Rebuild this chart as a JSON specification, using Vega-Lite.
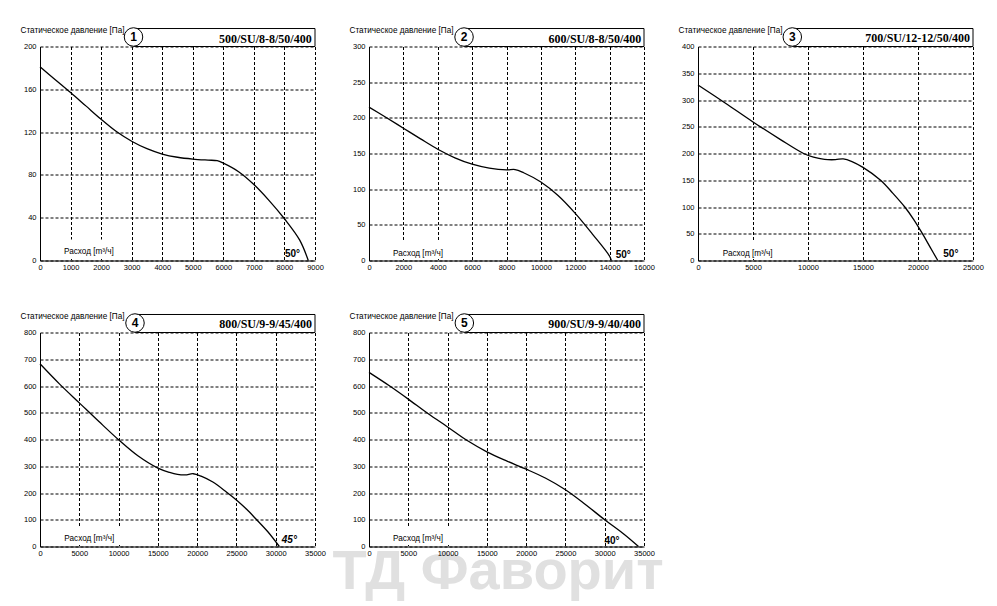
{
  "$schema": "https://vega.github.io/schema/vega-lite/v6.json",
  "background": "white",
  "padding": {"left": 20, "top": 25.5, "right": 5, "bottom": 0},
  "autosize": {"type": "pad"},
  "datasets": {
    "p1": [{"flow":0,"pressure":181},{"flow":500,"pressure":169},{"flow":1000,"pressure":157},{"flow":1500,"pressure":144.5},{"flow":2000,"pressure":132},{"flow":2500,"pressure":120.5},{"flow":3000,"pressure":111.5},{"flow":3500,"pressure":104.5},{"flow":4000,"pressure":99.5},{"flow":4500,"pressure":96.5},{"flow":5000,"pressure":94.8},{"flow":5500,"pressure":93.8},{"flow":5800,"pressure":93.3},{"flow":6000,"pressure":91},{"flow":6500,"pressure":83},{"flow":7000,"pressure":71},{"flow":7500,"pressure":56},{"flow":8000,"pressure":39},{"flow":8500,"pressure":19},{"flow":8780,"pressure":0}],
    "p2": [{"flow":0,"pressure":215},{"flow":1000,"pressure":200.5},{"flow":2000,"pressure":185.5},{"flow":3000,"pressure":170.5},{"flow":4000,"pressure":156},{"flow":5000,"pressure":144},{"flow":6000,"pressure":135},{"flow":7000,"pressure":129.5},{"flow":8000,"pressure":127},{"flow":8500,"pressure":127.5},{"flow":9000,"pressure":123},{"flow":10000,"pressure":110},{"flow":11000,"pressure":91},{"flow":12000,"pressure":66},{"flow":13000,"pressure":37},{"flow":14000,"pressure":6},{"flow":14100,"pressure":0}],
    "p3": [{"flow":0,"pressure":328},{"flow":2500,"pressure":294},{"flow":5000,"pressure":259},{"flow":7500,"pressure":226},{"flow":9600,"pressure":200},{"flow":10500,"pressure":193},{"flow":11500,"pressure":189},{"flow":12500,"pressure":188.5},{"flow":13200,"pressure":190},{"flow":14000,"pressure":185},{"flow":15000,"pressure":174},{"flow":16600,"pressure":150},{"flow":17700,"pressure":126},{"flow":18800,"pressure":100},{"flow":19600,"pressure":77},{"flow":20350,"pressure":52},{"flow":21100,"pressure":25},{"flow":21800,"pressure":0}],
    "p4": [{"flow":0,"pressure":683},{"flow":2500,"pressure":607},{"flow":5000,"pressure":537},{"flow":7500,"pressure":467},{"flow":10000,"pressure":399},{"flow":12500,"pressure":338},{"flow":15000,"pressure":293},{"flow":16500,"pressure":277},{"flow":17500,"pressure":270},{"flow":18500,"pressure":268},{"flow":19500,"pressure":272},{"flow":20500,"pressure":263},{"flow":22000,"pressure":241},{"flow":23757,"pressure":203},{"flow":25000,"pressure":174},{"flow":26300,"pressure":139},{"flow":27576,"pressure":100},{"flow":29000,"pressure":55},{"flow":30460,"pressure":0}],
    "p5": [{"flow":0,"pressure":651},{"flow":2640,"pressure":600},{"flow":5000,"pressure":551},{"flow":7500,"pressure":497},{"flow":10000,"pressure":447},{"flow":12500,"pressure":396},{"flow":15000,"pressure":354},{"flow":17500,"pressure":320},{"flow":20000,"pressure":289},{"flow":22500,"pressure":255},{"flow":25000,"pressure":212},{"flow":27500,"pressure":158},{"flow":30000,"pressure":100},{"flow":32500,"pressure":45},{"flow":34300,"pressure":0}]
  },
  "concat": [
    {
      "width": 275, "height": 214, "data": {"name": "p1"},
      "layer": [
        {"mark": {"type": "line", "color": "black", "strokeWidth": 1.3, "interpolate": "catmull-rom"},
         "encoding": {
           "x": {"field": "flow", "type": "quantitative", "scale": {"domain": [0, 9000], "nice": false}, "axis": {"values": [0,1000,2000,3000,4000,5000,6000,7000,8000,9000], "title": null, "format": "d"}},
           "y": {"field": "pressure", "type": "quantitative", "scale": {"domain": [0, 200], "nice": false}, "axis": {"values": [0,40,80,120,160,200], "title": "Статическое давление [Па]", "format": "d"}}}},
        {"data": {"values": [{}]}, "mark": {"type": "rect", "fill": "white"},
         "encoding": {"x": {"datum": 600, "type": "quantitative", "axis": {"values": [0,1000,2000,3000,4000,5000,6000,7000,8000,9000], "title": null, "format": "d"}}, "x2": {"datum": 2600}, "y": {"datum": 1.4, "type": "quantitative", "axis": {"values": [0,40,80,120,160,200], "title": "Статическое давление [Па]", "format": "d"}}, "y2": {"datum": 19.6}}},
        {"data": {"values": [{}]}, "mark": {"type": "text", "align": "left", "baseline": "middle", "font": "Liberation Sans", "fontSize": 8.2, "color": "black", "text": "Расход [m³/ч]"},
         "encoding": {"x": {"datum": 785, "type": "quantitative", "axis": {"values": [0,1000,2000,3000,4000,5000,6000,7000,8000,9000], "title": null, "format": "d"}}, "y": {"datum": 7.5, "type": "quantitative", "axis": {"values": [0,40,80,120,160,200], "title": "Статическое давление [Па]", "format": "d"}}}},
        {"data": {"values": [{}]}, "mark": {"type": "text", "align": "left", "baseline": "alphabetic", "font": "Liberation Sans", "fontSize": 10, "fontWeight": "bold", "color": "black", "text": "50°"},
         "encoding": {"x": {"datum": 8018, "type": "quantitative", "axis": {"values": [0,1000,2000,3000,4000,5000,6000,7000,8000,9000], "title": null, "format": "d"}}, "y": {"datum": 3.7, "type": "quantitative", "axis": {"values": [0,40,80,120,160,200], "title": "Статическое давление [Па]", "format": "d"}}}},
        {"data": {"values": [{}]}, "mark": {"type": "rect", "fill": "white", "fillOpacity": 0, "stroke": "black", "strokeWidth": 1},
         "encoding": {"x": {"datum": 3060, "type": "quantitative", "axis": {"values": [0,1000,2000,3000,4000,5000,6000,7000,8000,9000], "title": null, "format": "d"}}, "x2": {"datum": 9000}, "y": {"datum": 200, "type": "quantitative", "axis": {"values": [0,40,80,120,160,200], "title": "Статическое давление [Па]", "format": "d"}}, "y2": {"datum": 216.8}}},
        {"data": {"values": [{}]}, "mark": {"type": "point", "shape": "circle", "filled": true, "fill": "white", "stroke": "black", "strokeWidth": 1, "size": 342, "opacity": 1},
         "encoding": {"x": {"datum": 3060, "type": "quantitative", "axis": {"values": [0,1000,2000,3000,4000,5000,6000,7000,8000,9000], "title": null, "format": "d"}}, "y": {"datum": 208.9, "type": "quantitative", "axis": {"values": [0,40,80,120,160,200], "title": "Статическое давление [Па]", "format": "d"}}}},
        {"data": {"values": [{}]}, "mark": {"type": "text", "align": "center", "baseline": "middle", "font": "Liberation Sans", "fontSize": 12, "fontWeight": "bold", "color": "black", "text": "1"},
         "encoding": {"x": {"datum": 3060, "type": "quantitative", "axis": {"values": [0,1000,2000,3000,4000,5000,6000,7000,8000,9000], "title": null, "format": "d"}}, "y": {"datum": 208.9, "type": "quantitative", "axis": {"values": [0,40,80,120,160,200], "title": "Статическое давление [Па]", "format": "d"}}}},
        {"data": {"values": [{}]}, "mark": {"type": "text", "align": "right", "baseline": "alphabetic", "font": "Liberation Serif", "fontSize": 12, "fontWeight": "bold", "color": "black", "text": "500/SU/8-8/50/400"},
         "encoding": {"x": {"datum": 8892, "type": "quantitative", "axis": {"values": [0,1000,2000,3000,4000,5000,6000,7000,8000,9000], "title": null, "format": "d"}}, "y": {"datum": 203.7, "type": "quantitative", "axis": {"values": [0,40,80,120,160,200], "title": "Статическое давление [Па]", "format": "d"}}}}
      ]
    },
    {
      "width": 275, "height": 214, "data": {"name": "p2"},
      "layer": [
        {"mark": {"type": "line", "color": "black", "strokeWidth": 1.3, "interpolate": "catmull-rom"},
         "encoding": {
           "x": {"field": "flow", "type": "quantitative", "scale": {"domain": [0, 16000], "nice": false}, "axis": {"values": [0,2000,4000,6000,8000,10000,12000,14000,16000], "title": null, "format": "d"}},
           "y": {"field": "pressure", "type": "quantitative", "scale": {"domain": [0, 300], "nice": false}, "axis": {"values": [0,50,100,150,200,250,300], "title": "Статическое давление [Па]", "format": "d"}}}},
        {"data": {"values": [{}]}, "mark": {"type": "rect", "fill": "white"},
         "encoding": {"x": {"datum": 1100, "type": "quantitative", "axis": {"values": [0,2000,4000,6000,8000,10000,12000,14000,16000], "title": null, "format": "d"}}, "x2": {"datum": 4600}, "y": {"datum": 2.1, "type": "quantitative", "axis": {"values": [0,50,100,150,200,250,300], "title": "Статическое давление [Па]", "format": "d"}}, "y2": {"datum": 28}}},
        {"data": {"values": [{}]}, "mark": {"type": "text", "align": "left", "baseline": "middle", "font": "Liberation Sans", "fontSize": 8.2, "color": "black", "text": "Расход [m³/ч]"},
         "encoding": {"x": {"datum": 1402, "type": "quantitative", "axis": {"values": [0,2000,4000,6000,8000,10000,12000,14000,16000], "title": null, "format": "d"}}, "y": {"datum": 9.4, "type": "quantitative", "axis": {"values": [0,50,100,150,200,250,300], "title": "Статическое давление [Па]", "format": "d"}}}},
        {"data": {"values": [{}]}, "mark": {"type": "text", "align": "left", "baseline": "alphabetic", "font": "Liberation Sans", "fontSize": 10, "fontWeight": "bold", "color": "black", "text": "50°"},
         "encoding": {"x": {"datum": 14350, "type": "quantitative", "axis": {"values": [0,2000,4000,6000,8000,10000,12000,14000,16000], "title": null, "format": "d"}}, "y": {"datum": 3.8, "type": "quantitative", "axis": {"values": [0,50,100,150,200,250,300], "title": "Статическое давление [Па]", "format": "d"}}}},
        {"data": {"values": [{}]}, "mark": {"type": "rect", "fill": "white", "fillOpacity": 0, "stroke": "black", "strokeWidth": 1},
         "encoding": {"x": {"datum": 5530, "type": "quantitative", "axis": {"values": [0,2000,4000,6000,8000,10000,12000,14000,16000], "title": null, "format": "d"}}, "x2": {"datum": 16000}, "y": {"datum": 300, "type": "quantitative", "axis": {"values": [0,50,100,150,200,250,300], "title": "Статическое давление [Па]", "format": "d"}}, "y2": {"datum": 325.2}}},
        {"data": {"values": [{}]}, "mark": {"type": "point", "shape": "circle", "filled": true, "fill": "white", "stroke": "black", "strokeWidth": 1, "size": 342, "opacity": 1},
         "encoding": {"x": {"datum": 5530, "type": "quantitative", "axis": {"values": [0,2000,4000,6000,8000,10000,12000,14000,16000], "title": null, "format": "d"}}, "y": {"datum": 313.3, "type": "quantitative", "axis": {"values": [0,50,100,150,200,250,300], "title": "Статическое давление [Па]", "format": "d"}}}},
        {"data": {"values": [{}]}, "mark": {"type": "text", "align": "center", "baseline": "middle", "font": "Liberation Sans", "fontSize": 12, "fontWeight": "bold", "color": "black", "text": "2"},
         "encoding": {"x": {"datum": 5530, "type": "quantitative", "axis": {"values": [0,2000,4000,6000,8000,10000,12000,14000,16000], "title": null, "format": "d"}}, "y": {"datum": 313.3, "type": "quantitative", "axis": {"values": [0,50,100,150,200,250,300], "title": "Статическое давление [Па]", "format": "d"}}}},
        {"data": {"values": [{}]}, "mark": {"type": "text", "align": "right", "baseline": "alphabetic", "font": "Liberation Serif", "fontSize": 12, "fontWeight": "bold", "color": "black", "text": "600/SU/8-8/50/400"},
         "encoding": {"x": {"datum": 15840, "type": "quantitative", "axis": {"values": [0,2000,4000,6000,8000,10000,12000,14000,16000], "title": null, "format": "d"}}, "y": {"datum": 305.6, "type": "quantitative", "axis": {"values": [0,50,100,150,200,250,300], "title": "Статическое давление [Па]", "format": "d"}}}}
      ]
    },
    {
      "width": 275, "height": 214, "data": {"name": "p3"},
      "layer": [
        {"mark": {"type": "line", "color": "black", "strokeWidth": 1.3, "interpolate": "catmull-rom"},
         "encoding": {
           "x": {"field": "flow", "type": "quantitative", "scale": {"domain": [0, 25000], "nice": false}, "axis": {"values": [0,5000,10000,15000,20000,25000], "title": null, "format": "d"}},
           "y": {"field": "pressure", "type": "quantitative", "scale": {"domain": [0, 400], "nice": false}, "axis": {"values": [0,50,100,150,200,250,300,350,400], "title": "Статическое давление [Па]", "format": "d"}}}},
        {"data": {"values": [{}]}, "mark": {"type": "rect", "fill": "white"},
         "encoding": {"x": {"datum": 1800, "type": "quantitative", "axis": {"values": [0,5000,10000,15000,20000,25000], "title": null, "format": "d"}}, "x2": {"datum": 7000}, "y": {"datum": 2.8, "type": "quantitative", "axis": {"values": [0,50,100,150,200,250,300,350,400], "title": "Статическое давление [Па]", "format": "d"}}, "y2": {"datum": 37}}},
        {"data": {"values": [{}]}, "mark": {"type": "text", "align": "left", "baseline": "middle", "font": "Liberation Sans", "fontSize": 8.2, "color": "black", "text": "Расход [m³/ч]"},
         "encoding": {"x": {"datum": 2245, "type": "quantitative", "axis": {"values": [0,5000,10000,15000,20000,25000], "title": null, "format": "d"}}, "y": {"datum": 12.5, "type": "quantitative", "axis": {"values": [0,50,100,150,200,250,300,350,400], "title": "Статическое давление [Па]", "format": "d"}}}},
        {"data": {"values": [{}]}, "mark": {"type": "text", "align": "left", "baseline": "alphabetic", "font": "Liberation Sans", "fontSize": 10, "fontWeight": "bold", "color": "black", "text": "50°"},
         "encoding": {"x": {"datum": 22300, "type": "quantitative", "axis": {"values": [0,5000,10000,15000,20000,25000], "title": null, "format": "d"}}, "y": {"datum": 6.9, "type": "quantitative", "axis": {"values": [0,50,100,150,200,250,300,350,400], "title": "Статическое давление [Па]", "format": "d"}}}},
        {"data": {"values": [{}]}, "mark": {"type": "rect", "fill": "white", "fillOpacity": 0, "stroke": "black", "strokeWidth": 1},
         "encoding": {"x": {"datum": 8573, "type": "quantitative", "axis": {"values": [0,5000,10000,15000,20000,25000], "title": null, "format": "d"}}, "x2": {"datum": 25000}, "y": {"datum": 400, "type": "quantitative", "axis": {"values": [0,50,100,150,200,250,300,350,400], "title": "Статическое давление [Па]", "format": "d"}}, "y2": {"datum": 433.6}}},
        {"data": {"values": [{}]}, "mark": {"type": "point", "shape": "circle", "filled": true, "fill": "white", "stroke": "black", "strokeWidth": 1, "size": 342, "opacity": 1},
         "encoding": {"x": {"datum": 8573, "type": "quantitative", "axis": {"values": [0,5000,10000,15000,20000,25000], "title": null, "format": "d"}}, "y": {"datum": 417.8, "type": "quantitative", "axis": {"values": [0,50,100,150,200,250,300,350,400], "title": "Статическое давление [Па]", "format": "d"}}}},
        {"data": {"values": [{}]}, "mark": {"type": "text", "align": "center", "baseline": "middle", "font": "Liberation Sans", "fontSize": 12, "fontWeight": "bold", "color": "black", "text": "3"},
         "encoding": {"x": {"datum": 8573, "type": "quantitative", "axis": {"values": [0,5000,10000,15000,20000,25000], "title": null, "format": "d"}}, "y": {"datum": 417.8, "type": "quantitative", "axis": {"values": [0,50,100,150,200,250,300,350,400], "title": "Статическое давление [Па]", "format": "d"}}}},
        {"data": {"values": [{}]}, "mark": {"type": "text", "align": "right", "baseline": "alphabetic", "font": "Liberation Serif", "fontSize": 12, "fontWeight": "bold", "color": "black", "text": "700/SU/12-12/50/400"},
         "encoding": {"x": {"datum": 24727, "type": "quantitative", "axis": {"values": [0,5000,10000,15000,20000,25000], "title": null, "format": "d"}}, "y": {"datum": 407.5, "type": "quantitative", "axis": {"values": [0,50,100,150,200,250,300,350,400], "title": "Статическое давление [Па]", "format": "d"}}}}
      ]
    },
    {
      "width": 275, "height": 214, "data": {"name": "p4"},
      "layer": [
        {"data": {"values": [{}]}, "mark": {"type": "text", "align": "center", "baseline": "alphabetic", "font": "Liberation Sans", "fontSize": 56, "fontWeight": "bold", "color": "#e0e0e0", "text": "ТД Фаворит"},
         "encoding": {"x": {"datum": 58300, "type": "quantitative", "axis": {"values": [0,5000,10000,15000,20000,25000,30000,35000], "title": null, "format": "d"}}, "y": {"datum": -160, "type": "quantitative", "axis": {"values": [0,100,200,300,400,500,600,700,800], "title": "Статическое давление [Па]", "format": "d"}}}},
        {"mark": {"type": "line", "color": "black", "strokeWidth": 1.3, "interpolate": "catmull-rom"},
         "encoding": {
           "x": {"field": "flow", "type": "quantitative", "scale": {"domain": [0, 35000], "nice": false}, "axis": {"values": [0,5000,10000,15000,20000,25000,30000,35000], "title": null, "format": "d"}},
           "y": {"field": "pressure", "type": "quantitative", "scale": {"domain": [0, 800], "nice": false}, "axis": {"values": [0,100,200,300,400,500,600,700,800], "title": "Статическое давление [Па]", "format": "d"}}}},
        {"data": {"values": [{}]}, "mark": {"type": "rect", "fill": "white"},
         "encoding": {"x": {"datum": 2500, "type": "quantitative", "axis": {"values": [0,5000,10000,15000,20000,25000,30000,35000], "title": null, "format": "d"}}, "x2": {"datum": 10700}, "y": {"datum": 5.6, "type": "quantitative", "axis": {"values": [0,100,200,300,400,500,600,700,800], "title": "Статическое давление [Па]", "format": "d"}}, "y2": {"datum": 75}}},
        {"data": {"values": [{}]}, "mark": {"type": "text", "align": "left", "baseline": "middle", "font": "Liberation Sans", "fontSize": 8.2, "color": "black", "text": "Расход [m³/ч]"},
         "encoding": {"x": {"datum": 3094, "type": "quantitative", "axis": {"values": [0,5000,10000,15000,20000,25000,30000,35000], "title": null, "format": "d"}}, "y": {"datum": 28.8, "type": "quantitative", "axis": {"values": [0,100,200,300,400,500,600,700,800], "title": "Статическое давление [Па]", "format": "d"}}}},
        {"data": {"values": [{}]}, "mark": {"type": "text", "align": "left", "baseline": "alphabetic", "font": "Liberation Sans", "fontSize": 10, "fontWeight": "bold", "fontStyle": "italic", "color": "black", "text": "45°"},
         "encoding": {"x": {"datum": 30770, "type": "quantitative", "axis": {"values": [0,5000,10000,15000,20000,25000,30000,35000], "title": null, "format": "d"}}, "y": {"datum": 13.8, "type": "quantitative", "axis": {"values": [0,100,200,300,400,500,600,700,800], "title": "Статическое давление [Па]", "format": "d"}}}},
        {"data": {"values": [{}]}, "mark": {"type": "rect", "fill": "white", "fillOpacity": 0, "stroke": "black", "strokeWidth": 1},
         "encoding": {"x": {"datum": 12090, "type": "quantitative", "axis": {"values": [0,5000,10000,15000,20000,25000,30000,35000], "title": null, "format": "d"}}, "x2": {"datum": 35000}, "y": {"datum": 800, "type": "quantitative", "axis": {"values": [0,100,200,300,400,500,600,700,800], "title": "Статическое давление [Па]", "format": "d"}}, "y2": {"datum": 867.3}}},
        {"data": {"values": [{}]}, "mark": {"type": "point", "shape": "circle", "filled": true, "fill": "white", "stroke": "black", "strokeWidth": 1, "size": 342, "opacity": 1},
         "encoding": {"x": {"datum": 12090, "type": "quantitative", "axis": {"values": [0,5000,10000,15000,20000,25000,30000,35000], "title": null, "format": "d"}}, "y": {"datum": 835.5, "type": "quantitative", "axis": {"values": [0,100,200,300,400,500,600,700,800], "title": "Статическое давление [Па]", "format": "d"}}}},
        {"data": {"values": [{}]}, "mark": {"type": "text", "align": "center", "baseline": "middle", "font": "Liberation Sans", "fontSize": 12, "fontWeight": "bold", "color": "black", "text": "4"},
         "encoding": {"x": {"datum": 12090, "type": "quantitative", "axis": {"values": [0,5000,10000,15000,20000,25000,30000,35000], "title": null, "format": "d"}}, "y": {"datum": 835.5, "type": "quantitative", "axis": {"values": [0,100,200,300,400,500,600,700,800], "title": "Статическое давление [Па]", "format": "d"}}}},
        {"data": {"values": [{}]}, "mark": {"type": "text", "align": "right", "baseline": "alphabetic", "font": "Liberation Serif", "fontSize": 12, "fontWeight": "bold", "color": "black", "text": "800/SU/9-9/45/400"},
         "encoding": {"x": {"datum": 34618, "type": "quantitative", "axis": {"values": [0,5000,10000,15000,20000,25000,30000,35000], "title": null, "format": "d"}}, "y": {"datum": 815, "type": "quantitative", "axis": {"values": [0,100,200,300,400,500,600,700,800], "title": "Статическое давление [Па]", "format": "d"}}}}
      ]
    },
    {
      "width": 275, "height": 214, "data": {"name": "p5"},
      "layer": [
        {"mark": {"type": "line", "color": "black", "strokeWidth": 1.3, "interpolate": "catmull-rom"},
         "encoding": {
           "x": {"field": "flow", "type": "quantitative", "scale": {"domain": [0, 35000], "nice": false}, "axis": {"values": [0,5000,10000,15000,20000,25000,30000,35000], "title": null, "format": "d"}},
           "y": {"field": "pressure", "type": "quantitative", "scale": {"domain": [0, 800], "nice": false}, "axis": {"values": [0,100,200,300,400,500,600,700,800], "title": "Статическое давление [Па]", "format": "d"}}}},
        {"data": {"values": [{}]}, "mark": {"type": "rect", "fill": "white"},
         "encoding": {"x": {"datum": 2500, "type": "quantitative", "axis": {"values": [0,5000,10000,15000,20000,25000,30000,35000], "title": null, "format": "d"}}, "x2": {"datum": 10700}, "y": {"datum": 5.6, "type": "quantitative", "axis": {"values": [0,100,200,300,400,500,600,700,800], "title": "Статическое давление [Па]", "format": "d"}}, "y2": {"datum": 75}}},
        {"data": {"values": [{}]}, "mark": {"type": "text", "align": "left", "baseline": "middle", "font": "Liberation Sans", "fontSize": 8.2, "color": "black", "text": "Расход [m³/ч]"},
         "encoding": {"x": {"datum": 3066, "type": "quantitative", "axis": {"values": [0,5000,10000,15000,20000,25000,30000,35000], "title": null, "format": "d"}}, "y": {"datum": 27.7, "type": "quantitative", "axis": {"values": [0,100,200,300,400,500,600,700,800], "title": "Статическое давление [Па]", "format": "d"}}}},
        {"data": {"values": [{}]}, "mark": {"type": "text", "align": "left", "baseline": "alphabetic", "font": "Liberation Sans", "fontSize": 10, "fontWeight": "bold", "color": "black", "text": "40°"},
         "encoding": {"x": {"datum": 29970, "type": "quantitative", "axis": {"values": [0,5000,10000,15000,20000,25000,30000,35000], "title": null, "format": "d"}}, "y": {"datum": 10, "type": "quantitative", "axis": {"values": [0,100,200,300,400,500,600,700,800], "title": "Статическое давление [Па]", "format": "d"}}}},
        {"data": {"values": [{}]}, "mark": {"type": "rect", "fill": "white", "fillOpacity": 0, "stroke": "black", "strokeWidth": 1},
         "encoding": {"x": {"datum": 12135, "type": "quantitative", "axis": {"values": [0,5000,10000,15000,20000,25000,30000,35000], "title": null, "format": "d"}}, "x2": {"datum": 35000}, "y": {"datum": 800, "type": "quantitative", "axis": {"values": [0,100,200,300,400,500,600,700,800], "title": "Статическое давление [Па]", "format": "d"}}, "y2": {"datum": 867.3}}},
        {"data": {"values": [{}]}, "mark": {"type": "point", "shape": "circle", "filled": true, "fill": "white", "stroke": "black", "strokeWidth": 1, "size": 342, "opacity": 1},
         "encoding": {"x": {"datum": 12135, "type": "quantitative", "axis": {"values": [0,5000,10000,15000,20000,25000,30000,35000], "title": null, "format": "d"}}, "y": {"datum": 835.5, "type": "quantitative", "axis": {"values": [0,100,200,300,400,500,600,700,800], "title": "Статическое давление [Па]", "format": "d"}}}},
        {"data": {"values": [{}]}, "mark": {"type": "text", "align": "center", "baseline": "middle", "font": "Liberation Sans", "fontSize": 12, "fontWeight": "bold", "color": "black", "text": "5"},
         "encoding": {"x": {"datum": 12135, "type": "quantitative", "axis": {"values": [0,5000,10000,15000,20000,25000,30000,35000], "title": null, "format": "d"}}, "y": {"datum": 835.5, "type": "quantitative", "axis": {"values": [0,100,200,300,400,500,600,700,800], "title": "Статическое давление [Па]", "format": "d"}}}},
        {"data": {"values": [{}]}, "mark": {"type": "text", "align": "right", "baseline": "alphabetic", "font": "Liberation Serif", "fontSize": 12, "fontWeight": "bold", "color": "black", "text": "900/SU/9-9/40/400"},
         "encoding": {"x": {"datum": 34618, "type": "quantitative", "axis": {"values": [0,5000,10000,15000,20000,25000,30000,35000], "title": null, "format": "d"}}, "y": {"datum": 815, "type": "quantitative", "axis": {"values": [0,100,200,300,400,500,600,700,800], "title": "Статическое давление [Па]", "format": "d"}}}}
      ]
    }
  ],
  "columns": 3,
  "spacing": {"row": 72, "column": 54},
  "bounds": "flush",
  "config": {
    "view": {"stroke": null},
    "axis": {
      "domainColor": "black", "domainWidth": 1, "ticks": false, "tickSize": 0,
      "grid": true, "gridColor": "black", "gridDash": [3, 2], "gridWidth": 1, "gridOpacity": 1,
      "labelFont": "Liberation Sans", "labelFontSize": 7.5, "labelColor": "black", "labelPadding": 3,
      "labelOverlap": false, "labelFlush": false,
      "titleFont": "Liberation Sans", "titleFontSize": 8.2, "titleFontWeight": "normal", "titleColor": "black"
    },
    "axisY": {"titleAngle": 0, "titleAlign": "left", "titleBaseline": "alphabetic", "titleX": -20, "titleY": -14, "labelPadding": 4},
    "axisX": {"labelPadding": 3}
  }
}
